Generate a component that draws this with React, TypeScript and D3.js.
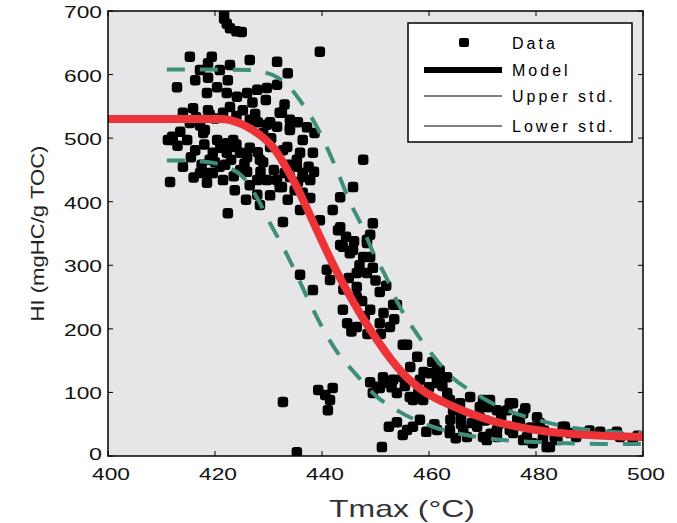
import React from "react";
import * as d3 from "d3";

const xTicks = [400, 420, 440, 460, 480, 500];
const yTicks = [0, 100, 200, 300, 400, 500, 600, 700];

const modelCurve: [number, number][] = [
  [400, 530], [410, 530], [421, 530], [423, 528], [425, 522], [427, 513], [429, 501],
  [431, 484], [433, 458], [435, 428], [437, 393], [439, 356], [441, 320], [443, 286],
  [445, 255], [447, 226], [449, 199], [451, 174], [453, 151], [455, 131], [457, 115],
  [459, 102], [461, 92], [464, 80], [468, 66], [472, 55], [476, 47], [480, 41],
  [485, 36], [490, 33], [495, 31], [500, 30],
];

const upperStd: [number, number][] = [
  [411, 608], [420, 608], [427, 607], [429, 604], [431.6, 596], [434, 580], [436, 558],
  [438.7, 523], [441, 484], [443, 445], [445.2, 400], [447.6, 359], [449.5, 321],
  [452, 281], [454.2, 240], [457, 201], [460.2, 164], [463.9, 127], [468.5, 99],
  [474.6, 72], [480.2, 57], [486.4, 45], [492.5, 39], [500, 36],
];

const lowerStd: [number, number][] = [
  [411, 465], [413, 465], [419, 462], [422, 455], [425.2, 439], [427.8, 407],
  [430.3, 366], [432.7, 329], [435, 290], [437.2, 250], [440, 203], [442.8, 164],
  [446.2, 130], [450.3, 93], [454.6, 69], [460.7, 46], [467, 33], [473.8, 25],
  [480, 22], [486, 20], [492.5, 19], [500, 19],
];

const dataPoints: [number, number][] = [
  [421.7, 698], [421.7, 688], [422.2, 680], [422.8, 673], [424, 668], [425, 667],
  [415.3, 628], [419.4, 628], [418.7, 618], [426.5, 623], [431.6, 620], [433.6, 602],
  [412.9, 580], [418.7, 595], [422.4, 591], [418.5, 571], [420.4, 580], [422.2, 571],
  [424.1, 565], [426, 571], [427.9, 576], [429.7, 579], [431.6, 584], [415.9, 547],
  [418.7, 544], [422.8, 549], [425.2, 544], [426.5, 529], [432.1, 540], [430.3, 525],
  [434, 529], [415.3, 524], [417.2, 607], [416.3, 591], [420.9, 607], [422.8, 615],
  [412.1, 497], [414.8, 497], [417.8, 508], [420.4, 497], [422.2, 492], [423.4, 497],
  [419.6, 477], [422.2, 477], [424.7, 477], [426, 470], [423.4, 486], [417.2, 445],
  [419.6, 445], [421.5, 434], [420.9, 455], [411.6, 431], [428.4, 466], [427.9, 434],
  [429.7, 434], [431.6, 434], [432.1, 423], [434, 439], [436.4, 439], [427.9, 411],
  [422.4, 382], [432.7, 368], [429, 508], [430.3, 486], [432.7, 481], [434, 513],
  [433.5, 486], [435.9, 477], [436.4, 497], [431.6, 518], [435.3, 455], [436.4, 414],
  [439.6, 636], [432.5, 540], [429.7, 521], [434, 516], [438.3, 477], [436.4, 445],
  [443.4, 407], [445.8, 423], [447.7, 466], [442, 387], [439.6, 371], [443.4, 360],
  [449.5, 366], [448.4, 340], [437.8, 406], [435.5, 431], [429, 462], [432.5, 423],
  [411.2, 497], [412, 502], [413.5, 510], [419, 445], [435.3, 466], [449, 348],
  [417.2, 520], [420, 531], [418.1, 513], [416.3, 481], [419, 466], [421.9, 458],
  [424.7, 450], [426.5, 426], [423.7, 418], [425.8, 403], [428.4, 395], [430.3, 410],
  [433.6, 403], [434.9, 418], [433.8, 458], [435.9, 387], [437.8, 434],
  [414, 540], [416.5, 533], [419, 537], [421.5, 540], [424, 535], [427.5, 538],
  [413, 488], [415.5, 470], [418, 490], [421, 485], [424, 490], [426.5, 485],
  [428, 478], [425.5, 460], [423, 466], [420, 462], [417.5, 458], [414, 455],
  [416, 438], [418.5, 430], [423.5, 440], [426, 447], [428.5, 447], [431, 450],
  [433, 445], [437.5, 455], [438.5, 447], [430.5, 500], [428, 525], [433, 553],
  [429.5, 560], [427, 556], [435.5, 525], [437.2, 517], [438.6, 508],
  [443.4, 332], [445.2, 319], [448.4, 335], [449, 313], [435.9, 285], [440.9, 293],
  [441.5, 277], [438.3, 261], [446.5, 288], [448.4, 288], [446.5, 266], [446.5, 250],
  [450.8, 258], [454, 238], [443.9, 230], [444.7, 209], [446.5, 203], [450.8, 209],
  [452.7, 203], [455.9, 175], [443, 355], [443.9, 329], [445.8, 324], [447.7, 313],
  [444.5, 345], [446, 338], [447, 300], [449.5, 296], [445, 280], [444, 262],
  [447.5, 244], [449, 230], [451.5, 225], [448, 220], [445.5, 196], [448.5, 192],
  [451, 192], [453.5, 215], [452, 268], [450, 276],
  [453.3, 238], [452.1, 115], [450.3, 109], [457, 88], [455.9, 41], [469.5, 61],
  [470.8, 77], [462, 135], [463.4, 124], [455.1, 175], [457.8, 156], [460.6, 148],
  [461.5, 135], [451.4, 124], [453.3, 120], [455.1, 124], [458.3, 120], [461.5, 120],
  [450.8, 107], [454, 99], [456.4, 93], [458.9, 88], [463.4, 99], [464.5, 72],
  [465.8, 83], [467.7, 93], [470.1, 88], [471.4, 77], [472.7, 72], [458.3, 57],
  [457, 46], [455.1, 33], [461.5, 41], [463.9, 41], [467.1, 30], [469, 46],
  [470.8, 25], [472.7, 30], [451.2, 14], [449, 116], [449.5, 99],
  [456.5, 140], [459, 132], [460, 108], [462.5, 110], [458, 100], [453, 108], [455.5, 110],
  [452.5, 46], [454, 53], [459.5, 38], [461, 50], [465, 28],
  [432.7, 85], [439.3, 104], [440.6, 96], [441.5, 88], [441.1, 72], [442, 107], [435.3, 6],
  [475.7, 83], [474.6, 72], [477.6, 67], [480.2, 61], [480.7, 52], [477, 52],
  [475.1, 41], [478.3, 30], [481.3, 28], [482.6, 14], [479.4, 20], [485.4, 46],
  [486.4, 36], [492, 38], [495.1, 38], [495.7, 30], [498.1, 25], [488.8, 36],
  [460.2, 130], [461.5, 115], [463.9, 88], [469.5, 77], [471.4, 88], [475.1, 83],
  [466.4, 41], [470.1, 30], [463.9, 36], [475.7, 36], [477.6, 25], [482, 14],
  [472.7, 41], [485, 46],
  [466, 62], [468, 52], [470.5, 56], [473.5, 62], [476.5, 58], [479, 45], [466, 50],
  [464, 57], [473, 50], [478, 75], [481.5, 40], [483.5, 30], [487.5, 30], [490, 40],
  [494, 34], [499, 32], [484, 25], [471.5, 35],
];

const legendLabels = ["Data", "Model", "Upper std.", "Lower std."];

const W = 677;
const H = 523;
const m = { left: 108, right: 643, top: 11, bottom: 456 };

export default function App() {
  const x = d3.scaleLinear().domain([400, 500]).range([m.left, m.right]);
  const y = d3.scaleLinear().domain([0, 700]).range([m.bottom, m.top]);
  const line = d3
    .line<[number, number]>()
    .x((d) => x(d[0]))
    .y((d) => y(d[1]))
    .curve(d3.curveMonotoneX);
  const teal = "#3f8d7b";
  const red = "#ec3338";
  const font = "'Liberation Sans', Arial, sans-serif";
  const tickLen = 5;
  const legY = [43, 70, 96, 126];
  const ms = 10.5;

  return (
    <svg
      width={W}
      height={H}
      style={{ position: "absolute", left: 0, top: 0, background: "#fff" }}
      fontFamily={font}
    >
      <defs>
        <clipPath id="plotclip">
          <rect x={m.left} y={m.top} width={m.right - m.left} height={m.bottom - m.top} />
        </clipPath>
      </defs>
      <rect
        x={m.left}
        y={m.top}
        width={m.right - m.left}
        height={m.bottom - m.top}
        fill="#e6e6e8"
      />
      <g clipPath="url(#plotclip)">
        {dataPoints.map((d, i) => (
          <rect
            key={i}
            x={x(d[0]) - ms / 2}
            y={y(d[1]) - ms / 2}
            width={ms}
            height={ms}
            rx={3.2}
            fill="#000"
          />
        ))}
        <path d={line(upperStd) || ""} fill="none" stroke={teal} strokeWidth={4} strokeDasharray="18,15" />
        <path d={line(lowerStd) || ""} fill="none" stroke={teal} strokeWidth={4} strokeDasharray="18,15" />
        <path d={line(modelCurve) || ""} fill="none" stroke={red} strokeWidth={8} />
      </g>
      {xTicks.map((t) => (
        <g key={"xt" + t}>
          <line x1={x(t)} x2={x(t)} y1={m.bottom} y2={m.bottom - tickLen} stroke="#000" />
          <line x1={x(t)} x2={x(t)} y1={m.top} y2={m.top + tickLen} stroke="#000" />
          <text
            x={x(t) + 3}
            y={m.bottom + 24}
            textAnchor="middle"
            fontSize={17}
            textLength={38}
            lengthAdjust="spacingAndGlyphs"
            fill="#111"
          >
            {t}
          </text>
        </g>
      ))}
      {yTicks.map((t) => (
        <g key={"yt" + t}>
          <line x1={m.left} x2={m.left + tickLen} y1={y(t)} y2={y(t)} stroke="#000" />
          <line x1={m.right} x2={m.right - tickLen} y1={y(t)} y2={y(t)} stroke="#000" />
          <text
            x={m.left - 6}
            y={y(t) + (t === 0 ? 4 : 7)}
            textAnchor="end"
            fontSize={17}
            textLength={t >= 100 ? 38 : 13}
            lengthAdjust="spacingAndGlyphs"
            fill="#111"
          >
            {t}
          </text>
        </g>
      ))}
      <rect
        x={m.left}
        y={m.top}
        width={m.right - m.left}
        height={m.bottom - m.top}
        fill="none"
        stroke="#000"
        strokeWidth={1.5}
      />
      <text
        x={402}
        y={517}
        textAnchor="middle"
        fontSize={24}
        fill="#333"
        textLength={146}
        lengthAdjust="spacingAndGlyphs"
      >
        Tmax (°C)
      </text>
      <text
        transform={`translate(44,${(m.top + m.bottom) / 2}) rotate(-90)`}
        textAnchor="middle"
        fontSize={19}
        fill="#222"
        textLength={176}
        lengthAdjust="spacingAndGlyphs"
      >
        HI (mgHC/g TOC)
      </text>
      <g>
        <rect x={408} y={23} width={224} height={119} fill="#fff" stroke="#000" strokeWidth={1.5} />
        <rect x={459} y={legY[0] - 5} width={10} height={9} rx={2} fill="#000" />
        <line x1={424} x2={502} y1={legY[1]} y2={legY[1]} stroke="#000" strokeWidth={6} />
        <line x1={424} x2={502} y1={legY[2]} y2={legY[2]} stroke="#000" strokeWidth={1.2} />
        <line x1={424} x2={502} y1={legY[3]} y2={legY[3]} stroke="#000" strokeWidth={1.2} />
        {legendLabels.map((l, i) => (
          <text key={l} x={512} y={legY[i] + 6} fontSize={16} letterSpacing={3} fill="#000">
            {l}
          </text>
        ))}
      </g>
    </svg>
  );
}
